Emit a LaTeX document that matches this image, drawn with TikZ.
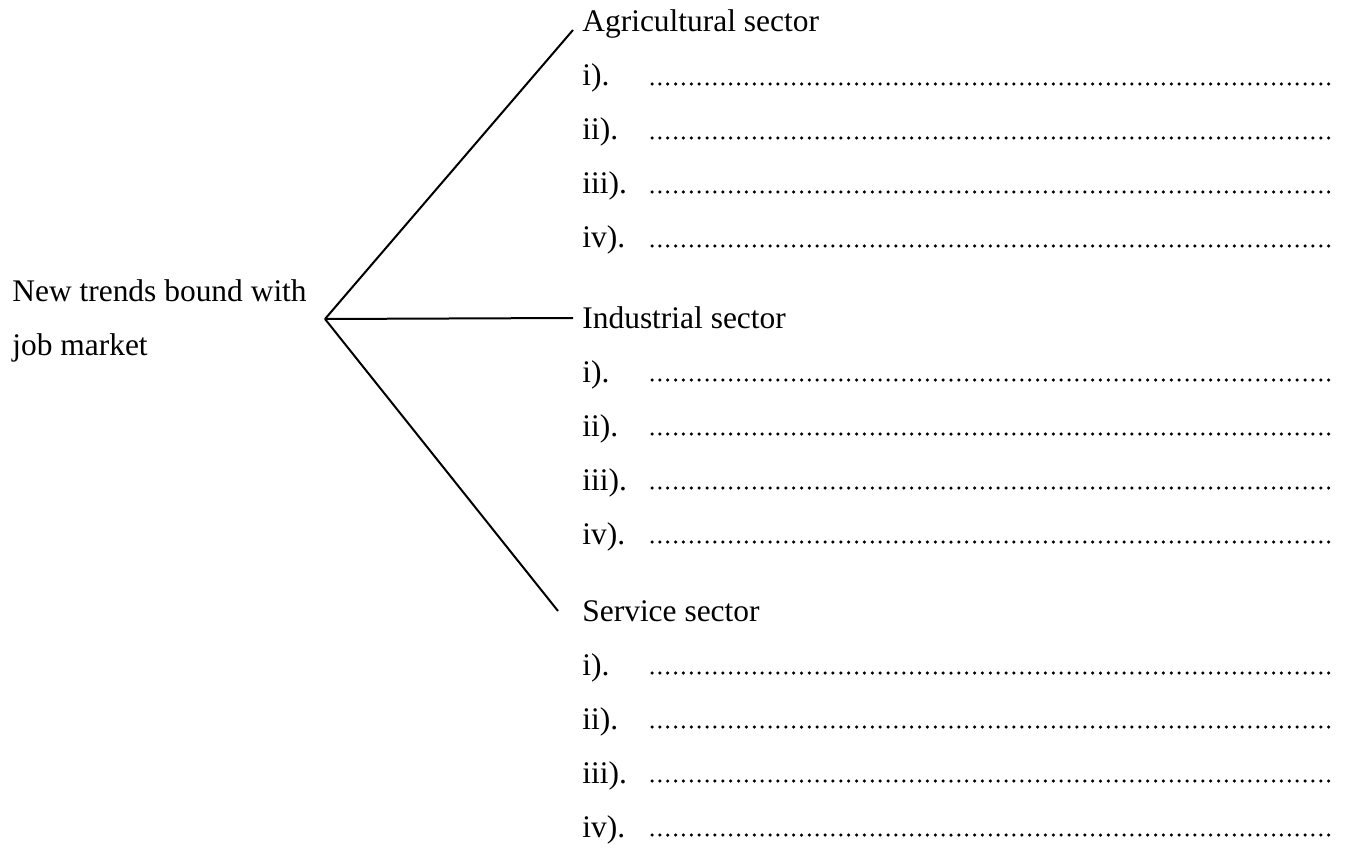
\documentclass[tikz,border=0pt]{standalone}
\usepackage{fontspec}
\setmainfont{Liberation Serif}
\usepackage{tikz}

\tikzset{
  every node/.style={font=\fontsize{17.9}{21}\selectfont, inner sep=0pt, anchor=base west},
  branch/.style={line width=0.04cm},
  blank/.style={line width=0.07cm, line cap=round, dash pattern=on 0pt off 0.1574cm}
}

\begin{document}
\begin{tikzpicture}[x=0.02cm, y=-0.02cm]
                \useasboundingbox (0,0) rectangle (1349,851);
                \coordinate (H) at (325, 319);
                \coordinate (agriEnd) at (573, 30);
                \coordinate (indEnd) at (573, 318);
                \coordinate (servEnd) at (558, 611);
                \node (trend) at (12, 301) {New trends bound with};
                \node (job) at (12, 356) {job market};
                \draw[branch] (H) -- (agriEnd);
                \draw[branch] (H) -- (indEnd);
                \draw[branch] (H) -- (servEnd);
                % sectors and their answer lines
                \foreach \s/\name/\y in {agri/Agricultural sector/32, ind/Industrial sector/328, serv/Service sector/621} {
                    \node (\s) at (582, \y) {\name};
                    \foreach \r [count=\k] in {i,ii,iii,iv} {
                        \node (\s-\k) at (582, {\y+54*\k}) {\r).};
                        \draw[blank] (652, {\y+54*\k-2}) -- (1333, {\y+54*\k-2});
                    }
                }
            \end{tikzpicture}
\end{document}
